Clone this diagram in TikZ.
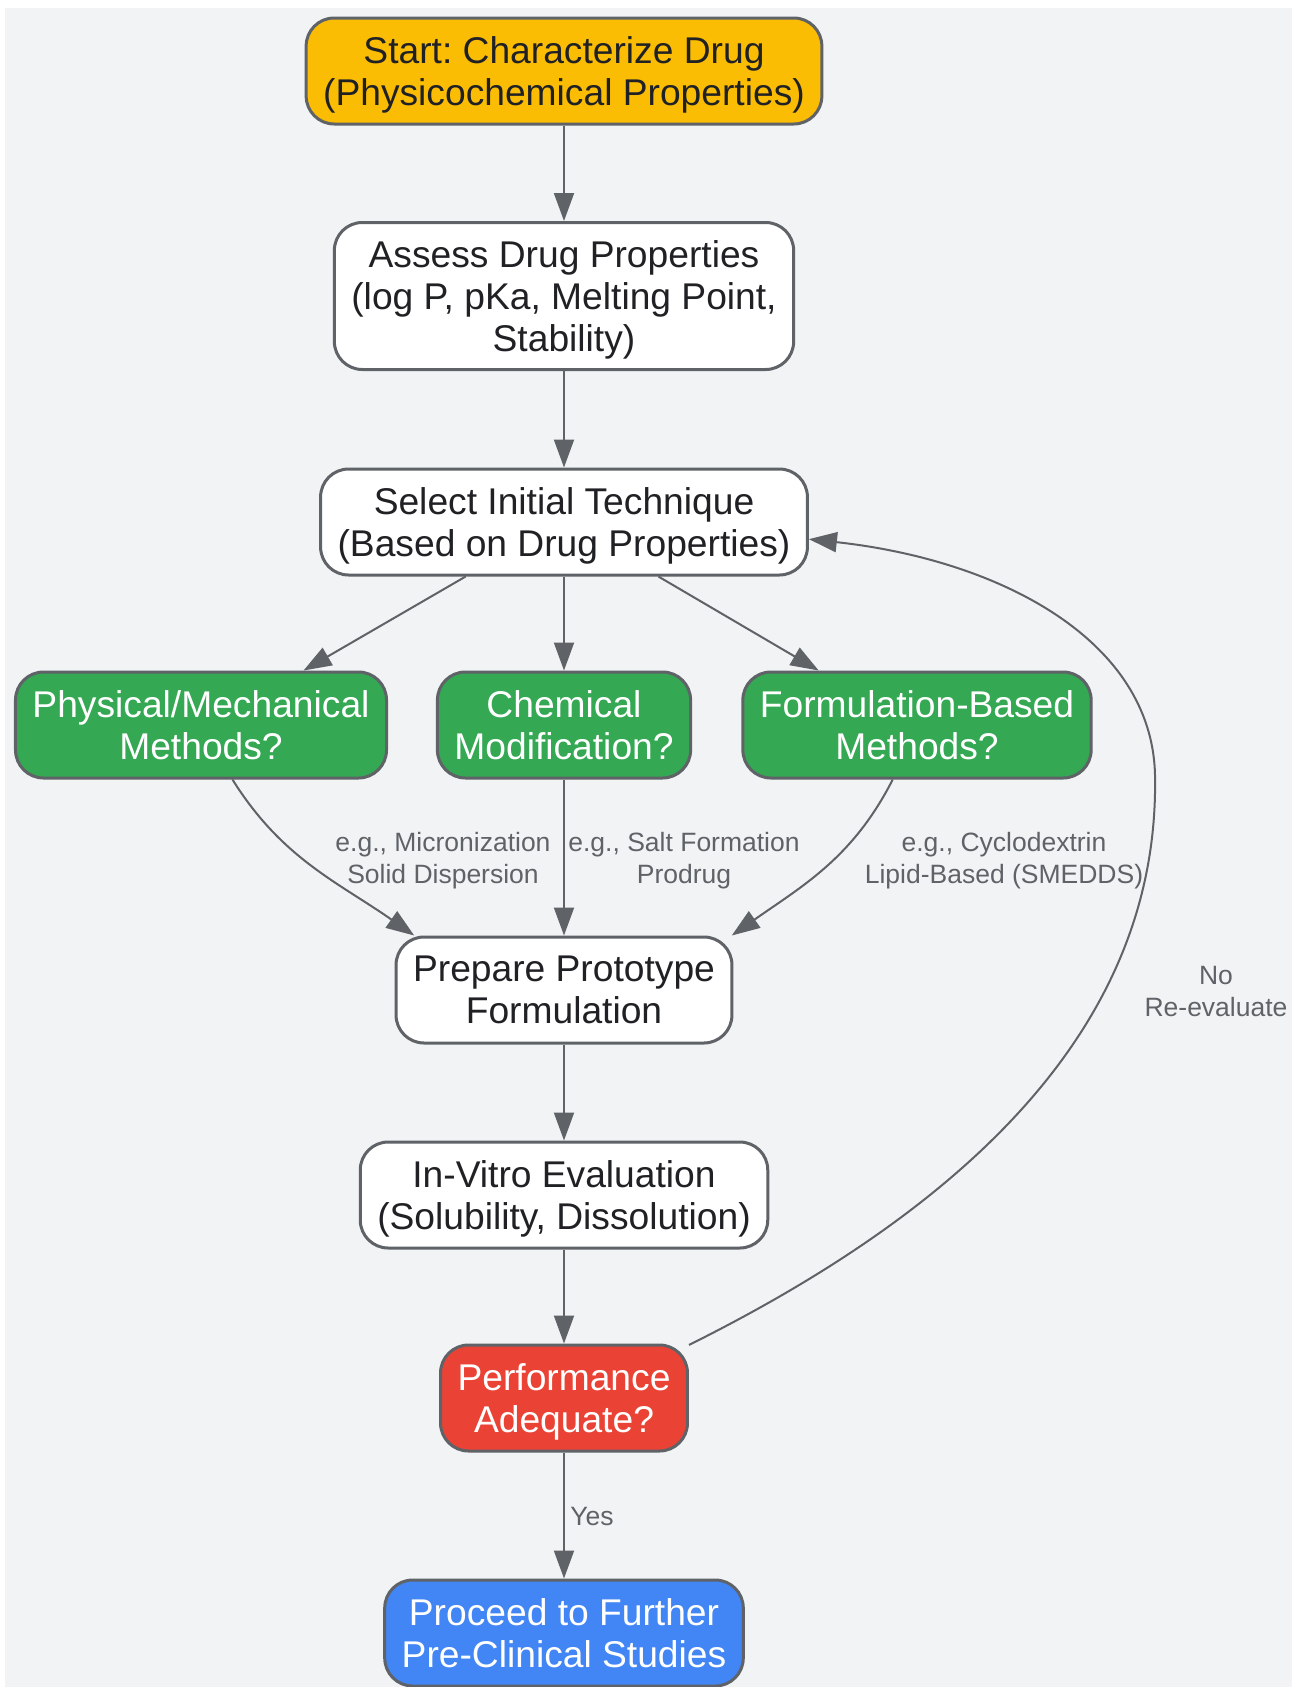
\documentclass[tikz,border=0pt]{standalone}
\usepackage{fontspec}
\setmainfont{Liberation Sans}
\usetikzlibrary{arrows.meta}
\definecolor{bgc}{HTML}{F1F3F4}
\definecolor{linec}{HTML}{5F6368}
\definecolor{txtc}{HTML}{202124}
\definecolor{startc}{HTML}{FBBC04}
\definecolor{greenc}{HTML}{34A853}
\definecolor{redc}{HTML}{EA4335}
\definecolor{bluec}{HTML}{4285F4}
\frenchspacing
\begin{document}
\begin{tikzpicture}[x=0.5pt,y=0.5pt,
    box/.style={draw=linec,line width=1.5pt,rounded corners=14pt,align=center,
      inner xsep=8.5pt,inner ysep=4pt,minimum height=53pt,text depth=0pt,
      fill=white,text=txtc,font=\fontsize{18.6}{21}\selectfont},
    startbox/.style={box,fill=startc},
    greenbox/.style={box,fill=greenc,text=white},
    redbox/.style={box,fill=redc,text=white},
    bluebox/.style={box,fill=bluec,text=white},
    arr/.style={draw=linec,line width=1pt,-{Triangle[length=14pt,width=10pt]}},
    lbl/.style={font=\fontsize{13.25}{16}\selectfont,text=linec,align=center}]
        % 画布与背景
        \useasboundingbox(0,0)rectangle(1292,-1687);
        \fill[bgc](5,-8)rectangle(1292,-1687);
        % 绘制节点
        \node[startbox](start)at(564,-71){Start: Characterize Drug\\(Physicochemical Properties)};
        \node[box,minimum height=73.5pt](assess)at(564,-296){Assess Drug Properties\\(log P, pKa, Melting Point,\\Stability)};
        \node[box](select)at(564,-522){Select Initial Technique\\(Based on Drug Properties)};
        \node[greenbox](phys)at(201,-725){Physical/Mechanical\\Methods?};
        \node[greenbox](chem)at(564,-725){Chemical\\Modification?};
        \node[greenbox](form)at(917,-725){Formulation-Based\\Methods?};
        \node[box](prep)at(564,-990){Prepare Prototype\\Formulation};
        \node[box](vitro)at(564,-1195){In-Vitro Evaluation\\(Solubility, Dissolution)};
        \node[redbox](perf)at(564,-1398){Performance\\Adequate?};
        \node[bluebox](proc)at(564,-1633){Proceed to Further\\Pre-Clinical Studies};
        % 绘制主线箭头
        \draw[arr](start)--(assess);
        \draw[arr](assess)--(select);
        \draw[arr](select.-151)--(phys.28);
        \draw[arr](select)--(chem);
        \draw[arr](select.-30)--(form.151);
        \draw[arr](phys.-60)to[out=-58,in=145](prep.160);
        \draw[arr](chem)--(prep);
        \draw[arr](form.-114)to[out=-117,in=35](prep.18);
        \draw[arr](prep)--(vitro);
        \draw[arr](vitro)--(perf);
        \draw[arr](perf)--(proc);
        % 回到选择的环线
        \draw[arr](perf.23)..controls(960,-1210)and(1160,-1030)..(1155,-775)
            ..controls(1152,-640)and(1000,-560)..(select.-4);
        % 添加标签
        \node[lbl](lphys)at(443,-861){e.g., Micronization\\Solid Dispersion};
        \node[lbl](lchem)at(684,-861){e.g., Salt Formation\\Prodrug};
        \node[lbl](lform)at(1004,-861){e.g., Cyclodextrin\\Lipid-Based (SMEDDS)};
        \node[lbl](lno)at(1216,-991){No\\Re-evaluate};
        \node[lbl](lyes)at(592,-1516){Yes};
\end{tikzpicture}
\end{document}
